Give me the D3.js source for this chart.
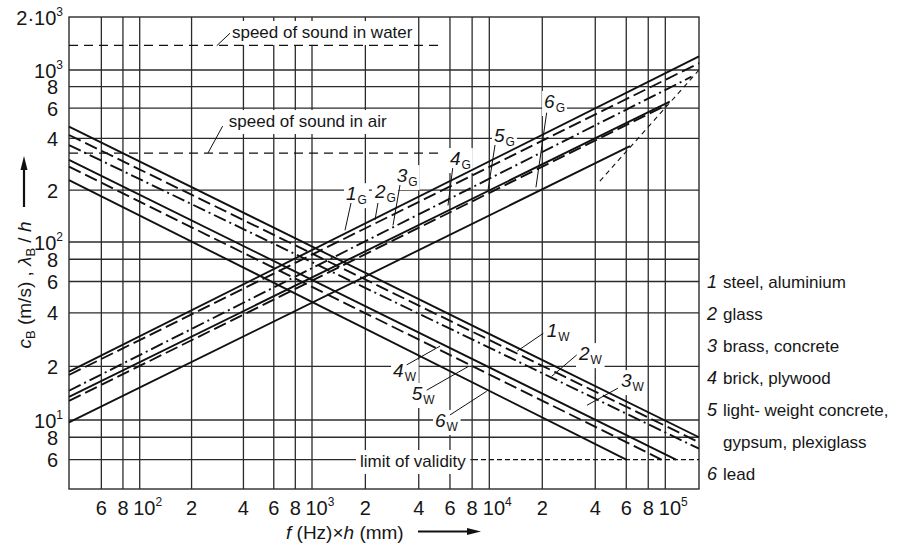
<!DOCTYPE html>
<html>
<head>
<meta charset="utf-8">
<script src="https://cdn.jsdelivr.net/npm/d3@7"></script>
<style>
  body { margin: 0; background: #fff; }
  svg text { font-family: "Liberation Sans", Arial, sans-serif; fill: #161616; }
</style>
</head>
<body>
<script>
'use strict';

// plot extent: f*h (Hz*mm) horizontally, c_B (m/s) or lambda_B/h vertically
const xExtent = [39, 155500];
const yExtent = [4.1, 2000];

const xGrid = [60, 80, 100, 200, 400, 600, 800, 1000, 2000, 4000, 6000, 8000,
               10000, 20000, 40000, 60000, 80000, 100000];
const yGrid = [6, 8, 10, 20, 40, 60, 80, 100, 200, 400, 600, 800, 1000];

const xTicks = [
    {v: 60, t: "6"}, {v: 80, t: "8"}, {v: 100, t: "10", sup: "2"},
    {v: 200, t: "2"}, {v: 400, t: "4"}, {v: 600, t: "6"}, {v: 800, t: "8"},
    {v: 1000, t: "10", sup: "3"}, {v: 2000, t: "2"}, {v: 4000, t: "4"},
    {v: 6000, t: "6"}, {v: 8000, t: "8"}, {v: 10000, t: "10", sup: "4"},
    {v: 20000, t: "2"}, {v: 40000, t: "4"}, {v: 60000, t: "6"},
    {v: 80000, t: "8"}, {v: 100000, t: "10", sup: "5"}
];
const yTicks = [
    {v: 6, t: "6"}, {v: 8, t: "8"}, {v: 10, t: "10", sup: "1"},
    {v: 20, t: "2"}, {v: 40, t: "4"}, {v: 60, t: "6"}, {v: 80, t: "8"},
    {v: 100, t: "10", sup: "2"}, {v: 200, t: "2"}, {v: 400, t: "4"},
    {v: 600, t: "6"}, {v: 800, t: "8"}, {v: 1000, t: "10", sup: "3"},
    {v: 2000, t: "2\u00b710", sup: "3"}
];

// bending wave speed c_B (rising lines), material 1..6
const gLines = [
    [[39, 18.7], [155500, 1195]],
    [[39, 17.9], [155500, 1094]],
    [[39, 14.6], [141000, 914]],
    [[39, 13.5], [106000, 654]],
    [[39, 12.8], [102000, 626]],
    [[39, 9.7], [63000, 361]]
];
// bending wavelength lambda_B/h (falling lines), material 1..6
const wLines = [
    [[39, 468], [155500, 8.0]],
    [[39, 419], [155500, 7.5]],
    [[39, 366], [155500, 6.9]],
    [[39, 300], [115000, 6]],
    [[39, 274], [95000, 6]],
    [[39, 229], [60000, 6]]
];

const waterLine = [[39, 1380], [5270, 1380]];
const airLine = [[39, 329], [5270, 329]];
const validityLine = [[8090, 6], [155500, 6]];
const diagLimit = [[42500, 226], [155500, 1000]];

// curve labels: number, subscript, text anchor, leader from/to
const gLabels = [
    {n: "1", s: "G", at: [1555, 175], leader: [[1660, 168.6], [1535, 117]]},
    {n: "2", s: "G", at: [2265, 180], leader: [[2355, 168.6], [2265, 134]]},
    {n: "3", s: "G", at: [3004, 223], leader: [[3136, 214.5], [2863, 125]]},
    {n: "4", s: "G", at: [5997, 280], leader: [[6218, 269], [5848, 163]]},
    {n: "5", s: "G", at: [10630, 381], leader: [[10780, 366.6], [9833, 200]]},
    {n: "6", s: "G", at: [20470, 601], leader: [[21180, 564.6], [18410, 208]]}
];
const wLabels = [
    {n: "1", s: "W", at: [21180, 29.4], leader: [[20270, 30.7], [14420, 24.4]]},
    {n: "2", s: "W", at: [32340, 21.7], leader: [[31380, 23.2], [22620, 17.6]]},
    {n: "3", s: "W", at: [55980, 15.3], leader: [[53830, 15.1], [35890, 12.1]]},
    {n: "4", s: "W", at: [2865, 17.5], leader: [[3420, 20.4], [5271, 26]]},
    {n: "5", s: "W", at: [3648, 12.95], leader: [[4436, 14.7], [7627, 20]]},
    {n: "6", s: "W", at: [4943, 9.14], leader: [[5997, 10.67], [9662, 14.5]]}
];
const refLabels = [
    {text: "speed of sound in water", at: [343, 1520], leader: [[280, 1374], [334, 1616]]},
    {text: "speed of sound in air", at: [329, 466], leader: [[249, 329], [303, 472]]},
    {text: "limit of validity", at: [1866, 5.45]}
];

const legendNums = ["1", "2", "3", "4", "5", "", "6"];
const legendNames = ["steel, aluminium", "glass", "brass, concrete", "brick, plywood",
                     "light- weight concrete,", "gypsum, plexiglass", "lead"];

(function() {
    const svg = d3.select('body').append('svg')
        .attr('width', 906)
        .attr('height', 544);

    // piecewise log scales (decades are not exactly equal in the original)
    const x = d3.scaleLog()
        .domain([xExtent[0], 100, 1000, 10000, 100000, xExtent[1]])
        .range([69, 139.7, 312, 489.3, 665.3, 699]);
    const y = d3.scaleLog()
        .domain([yExtent[0], 10, 100, 1000, 2000])
        .range([489, 420, 242, 70, 17]);

    const line = d3.line().x(d => x(d[0])).y(d => y(d[1]));

    const gridLayer = svg.append('g');
    const boxLayer = svg.append('g');
    const curveLayer = svg.append('g');
    const textLayer = svg.append('g');

    // grid
    gridLayer.selectAll('.vgrid')
        .data(xGrid).enter()
        .append('line')
        .attr('x1', d => x(d)).attr('x2', d => x(d))
        .attr('y1', y(yExtent[0])).attr('y2', y(yExtent[1]))
        .attr('stroke', '#2b2b2b').attr('stroke-width', 1.3);
    gridLayer.selectAll('.hgrid')
        .data(yGrid).enter()
        .append('line')
        .attr('x1', x(xExtent[0]))
        .attr('x2', d => d === validityLine[0][1] ? x(validityLine[0][0]) : x(xExtent[1]))
        .attr('y1', d => y(d)).attr('y2', d => y(d))
        .attr('stroke', '#2b2b2b').attr('stroke-width', 1.3);
    gridLayer.append('rect')
        .attr('x', x(xExtent[0])).attr('y', y(yExtent[1]))
        .attr('width', x(xExtent[1]) - x(xExtent[0]))
        .attr('height', y(yExtent[0]) - y(yExtent[1]))
        .attr('fill', 'none').attr('stroke', '#2b2b2b').attr('stroke-width', 1.4);

    // reference dashed lines
    [waterLine, airLine].forEach(l => {
        curveLayer.append('path').attr('d', line(l))
            .attr('fill', 'none').attr('stroke', '#111')
            .attr('stroke-width', 1.2).attr('stroke-dasharray', '9,6');
    });
    curveLayer.append('path').attr('d', line(validityLine))
        .attr('fill', 'none').attr('stroke', '#111')
        .attr('stroke-width', 1.3).attr('stroke-dasharray', '5,3');
    curveLayer.append('path').attr('d', line(diagLimit))
        .attr('fill', 'none').attr('stroke', '#111')
        .attr('stroke-width', 1.1).attr('stroke-dasharray', '5,4');

    // material curves
    const dashFor = i => [null, '13,5', '13,4,2,4', null, '13,5', null][i];
    [gLines, wLines].forEach(set => {
        curveLayer.selectAll(null)
            .data(set).enter()
            .append('path')
            .attr('d', d => line(d))
            .attr('fill', 'none')
            .attr('stroke', '#111')
            .attr('stroke-width', 1.9)
            .attr('stroke-dasharray', (d, i) => dashFor(i));
    });

    // labels with white boxes knocking out the grid
    function addBox(t, pad) {
        const b = t.node().getBBox();
        boxLayer.append('rect')
            .attr('x', b.x - pad).attr('y', b.y - pad + 2)
            .attr('width', b.width + 2 * pad).attr('height', b.height + 2 * pad - 3)
            .attr('fill', '#fff');
    }
    gLabels.concat(wLabels).forEach(lab => {
        const t = textLayer.append('text')
            .attr('x', x(lab.at[0])).attr('y', y(lab.at[1]));
        t.append('tspan').style('font-style', 'italic').style('font-size', '19px').text(lab.n);
        t.append('tspan').attr('dy', 4).attr('dx', 1).style('font-size', '12px').text(lab.s);
        addBox(t, 2);
        textLayer.append('path').attr('d', line(lab.leader))
            .attr('stroke', '#111').attr('stroke-width', 1);
    });
    refLabels.forEach(lab => {
        const t = textLayer.append('text')
            .attr('x', x(lab.at[0])).attr('y', y(lab.at[1]))
            .style('font-size', '17px')
            .text(lab.text);
        addBox(t, 4);
        if (lab.leader) {
            textLayer.append('path').attr('d', line(lab.leader))
                .attr('stroke', '#111').attr('stroke-width', 1);
        }
    });

    // tick labels
    xTicks.forEach(d => {
        const t = svg.append('text')
            .attr('y', 515)
            .style('font-size', '20px');
        if (d.sup) {
            t.attr('x', x(d.v) - 6.5);
            t.append('tspan').text(d.t);
            t.append('tspan').attr('dy', -9).style('font-size', '12px').text(d.sup);
        } else {
            t.attr('x', x(d.v)).attr('text-anchor', 'middle').text(d.t);
        }
    });
    yTicks.forEach(d => {
        const t = svg.append('text')
            .attr('y', y(d.v) + 7.5)
            .attr('text-anchor', 'end')
            .style('font-size', '20px');
        if (d.sup) {
            t.attr('x', 63);
            t.append('tspan').text(d.t);
            t.append('tspan').attr('dy', -9).style('font-size', '12px').text(d.sup);
        } else {
            t.attr('x', 58).text(d.t);
        }
    });

    // axis titles
    const yt = svg.append('text')
        .attr('transform', 'translate(31, 285)rotate(-90)')
        .attr('text-anchor', 'middle')
        .style('font-size', '19px');
    yt.append('tspan').style('font-style', 'italic').text('c');
    yt.append('tspan').attr('dy', 4).style('font-size', '13px').text('B');
    yt.append('tspan').attr('dy', -4).text(' (m/s) ,  ');
    yt.append('tspan').style('font-style', 'italic').text('\u03bb');
    yt.append('tspan').attr('dy', 4).style('font-size', '13px').text('B');
    yt.append('tspan').attr('dy', -4).text(' / ');
    yt.append('tspan').style('font-style', 'italic').text('h');

    svg.append('line').attr('x1', 24).attr('x2', 24).attr('y1', 207).attr('y2', 166)
        .attr('stroke', '#111').attr('stroke-width', 2.2);
    svg.append('path').attr('d', 'M24,156 L20.5,170 L27.5,170 Z').attr('fill', '#111');

    const xt = svg.append('text')
        .attr('x', 286)
        .attr('y', 539)
        .style('font-size', '19px');
    xt.append('tspan').style('font-style', 'italic').text('f');
    xt.append('tspan').text(' (Hz)\u00d7');
    xt.append('tspan').style('font-style', 'italic').text('h');
    xt.append('tspan').text(' (mm)');

    svg.append('line').attr('x1', 418).attr('x2', 470).attr('y1', 531.5).attr('y2', 531.5)
        .attr('stroke', '#111').attr('stroke-width', 2.2);
    svg.append('path').attr('d', 'M481,531.5 L467,528 L467,535 Z').attr('fill', '#111');

    // legend
    legendNames.forEach((name, i) => {
        const by = 288 + 32 * i;
        if (legendNums[i]) {
            svg.append('text').attr('x', 707).attr('y', by)
                .style('font-size', '18px').style('font-style', 'italic')
                .text(legendNums[i]);
        }
        svg.append('text').attr('x', 723).attr('y', by)
            .style('font-size', '17px')
            .text(name);
    });
})();
</script>
</body>
</html>
